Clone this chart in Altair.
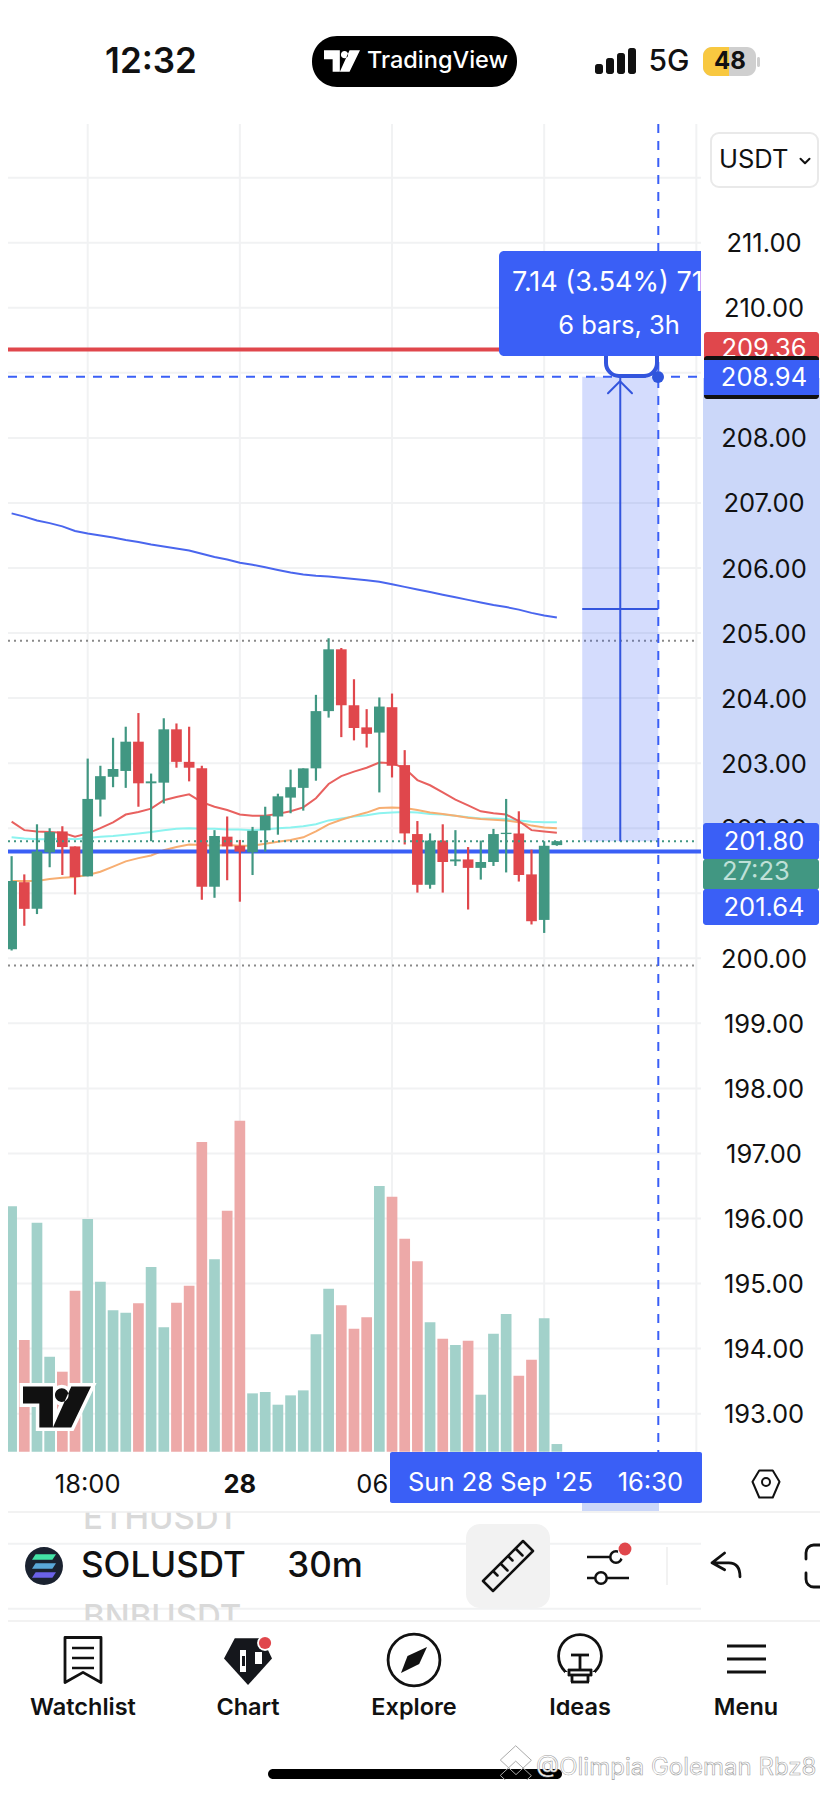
import altair as alt
import pandas as pd

# ---------- chart values ----------
bars = list(range(-6, 38))
opens = [200.14,201.17,200.76,201.63,201.95,201.72,201.26,202.44,202.79,202.88,203.33,202.69,202.70,203.52,203.02,202.92,201.10,201.87,201.73,201.63,201.97,202.18,202.47,202.62,202.92,203.80,204.75,203.89,203.55,203.47,203.86,202.97,201.91,201.13,201.81,201.49,201.52,201.39,201.48,201.91,201.92,201.29,200.59,201.74]
closes = [201.19,200.76,201.64,201.94,201.71,201.25,202.45,202.80,202.91,203.33,202.69,202.72,203.52,203.02,202.93,201.10,201.88,201.72,201.64,201.96,202.19,202.49,202.63,202.92,203.80,204.75,203.89,203.54,203.45,203.87,202.96,201.92,201.13,201.81,201.48,201.52,201.39,201.48,201.91,201.93,201.28,200.57,201.73,201.80]
highs = [201.57,201.29,202.06,202.00,202.03,201.72,203.07,202.96,203.39,203.56,203.77,202.84,203.69,203.61,203.56,202.96,201.97,202.18,201.82,202.02,202.33,202.53,202.90,202.92,204.05,204.92,204.77,204.29,203.83,204.01,204.07,203.20,202.11,201.92,202.06,201.97,201.71,201.81,201.99,202.45,202.26,201.67,201.80,201.80]
lows = [200.12,200.50,200.68,201.40,201.28,200.98,201.26,202.18,202.63,202.62,202.33,201.80,202.38,202.93,202.72,200.90,200.93,201.20,200.87,201.28,201.64,201.90,202.23,202.27,202.73,203.70,203.40,203.35,203.24,202.55,202.78,201.75,201.01,201.07,201.01,201.42,200.75,201.21,201.42,201.32,201.18,200.52,200.39,201.73]
volumes = [736,335,687,285,240,483,698,510,424,417,445,554,373,447,498,929,577,723,993,175,179,141,169,184,352,489,439,369,403,797,765,639,571,388,339,320,333,171,354,413,228,276,400,23]
ema_red = [202.10,201.97,201.95,201.94,201.93,201.87,201.92,202.00,202.09,202.21,202.25,202.30,202.43,202.48,202.52,202.40,202.33,202.28,202.21,202.19,202.19,202.22,202.26,202.32,202.46,202.68,202.80,202.87,202.93,203.01,203.00,202.92,202.74,202.66,202.55,202.44,202.35,202.26,202.23,202.21,202.11,201.97,201.95,201.93]
ema_orange = [201.19,201.19,201.19,201.22,201.24,201.25,201.28,201.33,201.41,201.49,201.54,201.58,201.66,201.71,201.75,201.74,201.73,201.74,201.73,201.73,201.76,201.79,201.82,201.86,201.95,202.06,202.13,202.19,202.24,202.31,202.32,202.31,202.28,202.24,202.22,202.19,202.16,202.14,202.13,202.12,202.09,202.04,202.01,202.00]
ema_cyan = [201.86,201.84,201.83,201.83,201.84,201.83,201.85,201.87,201.88,201.90,201.92,201.94,201.97,201.99,202.00,201.99,201.99,201.98,201.98,201.97,201.98,202.00,202.01,202.03,202.06,202.12,202.15,202.18,202.20,202.23,202.24,202.25,202.24,202.22,202.21,202.19,202.17,202.15,202.15,202.14,202.12,202.10,202.09,202.09]
ma_blue = [206.84,206.79,206.73,206.69,206.64,206.57,206.53,206.50,206.47,206.43,206.40,206.36,206.33,206.30,206.27,206.22,206.17,206.13,206.08,206.05,206.01,205.97,205.93,205.90,205.88,205.87,205.85,205.83,205.81,205.79,205.75,205.71,205.67,205.63,205.59,205.55,205.51,205.47,205.43,205.40,205.36,205.31,205.27,205.24]
price_ticks = list(range(193, 212))
time_bars = [0, 12, 24, 36, 48]
time_labels = ["18:00", "28", "06:00"]
time_label_bars = [0, 12, 24]
time_label_weight = [400, 700, 400]
alert_price = 209.36
cross_price = 208.94
bid_price = 201.64
last_price = 201.80
dotted_prices = [204.88, 199.89]
mid_price = 205.37
measure_start, measure_end, measure_mid = 39, 45, 42
nav_labels = ["Watchlist", "Chart", "Explore", "Ideas", "Menu"]

# ---------- page geometry ----------
W, H = 812, 1772
PX_PER_UNIT = 65.05
BAR_PX = 12.68
X0, Y200 = 87.7, 958.3
RIGHT, BOTTOM = 8 + W, 8 + H
price_domain = [200 - (BOTTOM - Y200) / PX_PER_UNIT, 200 + (Y200 - 8) / PX_PER_UNIT]
bar_domain = [(8 - X0) / BAR_PX, (RIGHT - X0) / BAR_PX]
XS = alt.Scale(domain=bar_domain, nice=False, zero=False, padding=0)
YS = alt.Scale(domain=price_domain, nice=False, zero=False, padding=0)
VS = alt.Scale(domain=[0, 1000], range=[1451.7 - 8, 1451.7 - 8 - 1000 / 3], nice=False, zero=True, padding=0)
xq = lambda f: alt.X(f, type="quantitative", scale=XS, axis=None)
yq = lambda f: alt.Y(f, type="quantitative", scale=YS, axis=None)
one = pd.DataFrame({"a": [0]})
FONT = "Inter"
TXT = 25.5
BLUE = "#3A5FF6"
GREEN = "#419782"
RED = "#E0474C"
GRID = "#F1F2F3"
layers = []
vx = lambda v: alt.value(max(v - 8, 0))
vy = lambda v: alt.value(max(v - 8, 0))

def rect(x0, x1, y0, y1, color, radius=0, **kw):
    layers.append(alt.Chart(one).mark_rect(color=color, cornerRadius=radius, **kw).encode(
        x=vx(x0), x2=vx(x1), y=vy(y0), y2=vy(y1)))

def hrule(x0, x1, y, color, w=2, **kw):
    layers.append(alt.Chart(one).mark_rule(color=color, strokeWidth=w, **kw).encode(
        x=vx(x0), x2=vx(x1), y=vy(y)))

def vrule(x, y0, y1, color, w=2, **kw):
    layers.append(alt.Chart(one).mark_rule(color=color, strokeWidth=w, **kw).encode(
        x=vx(x), y=vy(y0), y2=vy(y1)))

def text(s, x, y, size, color="#111111", weight=400, align="center", font=FONT, **kw):
    layers.append(alt.Chart(pd.DataFrame({"t": [s]})).mark_text(
        font=font, fontSize=size, fontWeight=weight, color=color, align=align, baseline="middle", **kw
    ).encode(x=vx(x), y=vy(y), text="t:N"))

def icon(path, x, y, px, color="#111111", filled=False, w=2.5, **kw):
    layers.append(alt.Chart(one).mark_point(
        shape=path, filled=filled, opacity=1, color=color, strokeWidth=(0 if filled else w),
        strokeCap="round", strokeJoin="round", **kw
    ).encode(x=vx(x), y=vy(y), size=alt.value(px * px)))

df = pd.DataFrame({"i": bars, "o": opens, "c": closes, "h": highs, "l": lows, "v": volumes,
                   "er": ema_red, "eo": ema_orange, "ec": ema_cyan, "mb": ma_blue})
df["up"] = df.c >= df.o
df["top"] = df[["o", "c"]].max(axis=1)
df["bot"] = df[["o", "c"]].min(axis=1)
colr = alt.Color("up:N", scale=alt.Scale(domain=[True, False], range=[GREEN, RED]), legend=None)
colv = alt.Color("up:N", scale=alt.Scale(domain=[True, False], range=["#A2D1CA", "#EDA9A8"]), legend=None)

# ---------- grid ----------
grid_df = pd.DataFrame({"p": list(range(188, 215))})
layers.append(alt.Chart(grid_df).mark_rule(color=GRID, strokeWidth=2).encode(
    y=yq("p"), x=vx(8), x2=vx(701)))
tb = pd.DataFrame({"i": time_bars})
layers.append(alt.Chart(tb).mark_rule(color=GRID, strokeWidth=2).encode(
    x=xq("i"), y=vy(124), y2=vy(1452)))
rect(8, 701, 8, 124, "#FFFFFF")

# ---------- volume ----------
layers.append(alt.Chart(df).mark_bar(size=10.7).encode(
    x=xq("i"), y=alt.Y("v:Q", scale=VS, axis=None), y2=alt.Y2(datum=0), color=colv))

# ---------- moving averages ----------
for f, c, w in [("mb", "#4A66EE", 2), ("ec", "#8CF3EF", 2), ("eo", "#F7AE72", 2), ("er", "#E8615F", 2)]:
    layers.append(alt.Chart(df).mark_line(color=c, strokeWidth=w).encode(x=xq("i"), y=yq(f)))

# ---------- horizontal levels ----------
lv = lambda p: pd.DataFrame({"p": [p]})
layers.append(alt.Chart(lv(bid_price)).mark_rule(color=BLUE, strokeWidth=4).encode(y=yq("p"), x=vx(8), x2=vx(701)))
layers.append(alt.Chart(lv(alert_price)).mark_rule(color=RED, strokeWidth=4).encode(y=yq("p"), x=vx(8), x2=vx(520)))
layers.append(alt.Chart(pd.DataFrame({"p": dotted_prices})).mark_rule(color="#8A8A8A", strokeWidth=2, strokeDash=[2, 4]).encode(y=yq("p"), x=vx(8), x2=vx(697)))

# ---------- candles ----------
layers.append(alt.Chart(df).mark_bar(size=2.2).encode(x=xq("i"), y=yq("h"), y2="l:Q", color=colr))
layers.append(alt.Chart(df).mark_bar(size=10.7, minBandSize=2).encode(x=xq("i"), y=yq("top"), y2="bot:Q", color=colr))
layers.append(alt.Chart(lv(last_price)).mark_rule(color=GREEN, strokeWidth=2, strokeDash=[2, 4]).encode(y=yq("p"), x=vx(8), x2=vx(697)))

# ---------- measure tool ----------
mdf = pd.DataFrame({"x1": [measure_start], "x2": [measure_end], "y1": [last_price], "y2": [cross_price]})
layers.append(alt.Chart(mdf).mark_rect(color=BLUE, opacity=0.22).encode(
    x=xq("x1"), x2="x2:Q", y=yq("y1"), y2="y2:Q"))
layers.append(alt.Chart(pd.DataFrame({"x": [measure_mid], "y1": [last_price], "y2": [cross_price]})).mark_rule(
    color="#3355DD", strokeWidth=2).encode(x=xq("x"), y=yq("y1"), y2="y2:Q"))
layers.append(alt.Chart(pd.DataFrame({"x1": [measure_start], "x2": [measure_end], "y": [mid_price]})).mark_rule(
    color="#3355DD", strokeWidth=2).encode(x=xq("x1"), x2="x2:Q", y=yq("y")))
layers.append(alt.Chart(pd.DataFrame({"x": [measure_end]})).mark_rule(
    color=BLUE, strokeWidth=2, strokeDash=[9, 8]).encode(x=xq("x"), y=vy(124), y2=vy(1452)))
layers.append(alt.Chart(lv(cross_price)).mark_rule(color=BLUE, strokeWidth=2, strokeDash=[9, 8]).encode(y=yq("p"), x=vx(8), x2=vx(701)))
icon("M-1 0.6L0 -0.4L1 0.6", 620, 386, 24, "#3355DD", w=2)

# TV watermark
TV = "M-1 -0.6H-0.12V0.6H-0.52V-0.1H-1Z M-0.06 -0.35a0.2 0.2 0 1 0 0.4 0a0.2 0.2 0 1 0 -0.4 0Z M0.42 -0.6H1L0.42 0.6H-0.12Z"
layers.append(alt.Chart(one).mark_point(shape=TV, filled=True, color="#FFFFFF", stroke="#FFFFFF", opacity=1, strokeWidth=7).encode(
    x=vx(57), y=vy(1407), size=alt.value(68 * 68)))
icon(TV, 57, 1407, 68, "#111111", filled=True)

# ---------- bottom strip below plot ----------
text("ETHUSDT", 83, 1519, 33, "#D9D9D9", 500, align="left")
text("BNBUSDT", 83, 1618, 33, "#D9D9D9", 500, align="left")
rect(8, RIGHT, 1452, 1512, "#FFFFFF")
rect(8, RIGHT, 1621, BOTTOM, "#FFFFFF")
hrule(8, RIGHT, 1512, "#EEEEEE", 1.5)
hrule(8, RIGHT, 1621, "#EEEEEE", 1.5)
rect(582, 659, 1503, 1511, "#CBD7F9")

# time axis
tl = pd.DataFrame({"i": time_label_bars, "t": time_labels, "w": time_label_weight})
for w in [400, 700]:
    layers.append(alt.Chart(tl[tl.w == w]).mark_text(font=FONT, fontSize=TXT, fontWeight=w, color="#111111", baseline="middle", dy=1).encode(
        x=xq("i"), y=vy(1484), text="t:N"))
rect(390, 702, 1452, 1503, BLUE, 2)
text("Sun 28 Sep '25", 408, 1483, TXT, "#FFFFFF", align="left")
text("16:30", 683, 1483, TXT, "#FFFFFF", align="right")
icon("M-0.9 -0.15L-0.45 -0.9H0.45L0.9 -0.15L0.45 0.9H-0.45Z", 766, 1484, 30, "#111111", w=2)
layers.append(alt.Chart(one).mark_point(filled=False, color="#111111", opacity=1, strokeWidth=2).encode(x=vx(766), y=vy(1482), size=alt.value(64)))

# ---------- right price scale ----------
rect(703, RIGHT, 378, 841, "#CBD7F9")
layers.append(alt.Chart(pd.DataFrame({"p": price_ticks})).transform_calculate(t="format(datum.p,'.2f')").mark_text(
    font=FONT, fontSize=TXT, color="#111111", align="center", baseline="middle", dy=1.5).encode(
    y=yq("p"), x=vx(764), text="t:N"))
rect(704, 819, 332, 372, RED, 3)
text("209.36", 764, 349, TXT, "#FFFFFF")
rect(704, 819, 356, 399, "#111111", 3)
rect(704, 819, 360, 395, BLUE)
text("208.94", 764, 378, TXT, "#FFFFFF")
rect(703, 819, 823, 860, BLUE, 3)
rect(703, 819, 859, 890, GREEN, 3)
rect(703, 819, 889, 925, BLUE, 3)
text("201.80", 764, 842, TXT, "#FFFFFF")
text("27:23", 722, 872, TXT, "#BFE0D8", align="left")
text("201.64", 764, 908, TXT, "#FFFFFF")

# ---------- measure callout ----------
layers.append(alt.Chart(one).mark_rect(fill="#FFFFFF", stroke="#3355DD", strokeWidth=4, cornerRadius=13).encode(
    x=vx(606), x2=vx(657), y=vy(335), y2=vy(376)))
rect(499, 701, 251, 356, BLUE, 5)
rect(690, 701, 251, 356, BLUE)
text("7.14 (3.54%) 714", 512, 283, 27, "#FFFFFF", align="left")
text("6 bars, 3h", 619, 326, TXT, "#FFFFFF", align="center")
rect(701, 722, 251, 300, "#FFFFFF")
layers.append(alt.Chart(one).mark_point(filled=True, color="#2F55DC", opacity=1).encode(x=vx(658), y=vy(377), size=alt.value(144)))

# ---------- status bar ----------
text("12:32", 151, 62, 35, "#111111", 600)
rect(312, 517, 36, 87, "#000000", 25)
icon(TV, 342, 61, 36, "#FFFFFF", filled=True)
text("TradingView", 367, 61, 23.5, "#FFFFFF", 500, align="left")
for bx, top in [(595, 64), (606, 58), (617, 53), (628, 48)]:
    rect(bx, bx + 8, top, 74, "#111111", 2.5)
text("5G", 669, 62, 30, "#111111", 500)
rect(703, 756, 47, 76, "#CFCFCF", 9)
rect(703, 729, 47, 76, "#F8C840", 9)
rect(720, 729, 47, 76, "#F8C840")
text("48", 730, 62, 24, "#111111", 700)
rect(757, 760, 57, 67, "#CFCFCF", 1.5)

# USDT button
layers.append(alt.Chart(one).mark_rect(fill="#FFFFFF", stroke="#E9E9E9", strokeWidth=2, cornerRadius=8).encode(
    x=vx(711), x2=vx(818), y=vy(133), y2=vy(187)))
text("USDT", 719, 160, TXT, "#111111", align="left")
icon("M-1 -0.5L0 0.5L1 -0.5", 805, 161, 9, "#111111", w=2)

# ---------- symbol toolbar ----------
layers.append(alt.Chart(one).mark_point(filled=True, color="#1A2230", opacity=1).encode(x=vx(44), y=vy(1566), size=alt.value(38 * 38 * 0.785 * 1.27)))
for yy, cc in [(1557, "#43E3A6"), (1566, "#5AA8D8"), (1575, "#6A62E8")]:
    icon("M-0.7 -0.22H1L0.7 0.22H-1Z", 44, yy, 24, cc, filled=True)
text("SOLUSDT", 81, 1566, 35, "#111111", 500, align="left")
text("30m", 325, 1566, 35, "#111111", 500)
rect(466, 550, 1524, 1608, "#F2F2F2", 14)
icon("M0.6 -1L1 -0.6L-0.6 1L-1 0.6Z M-0.6 0.2L-0.42 0.38 M-0.3 -0.1L-0.02 0.18 M0 -0.4L0.18 -0.22 M0.3 -0.7L0.58 -0.42", 508, 1566, 50, "#111111", w=2.5)
hrule(587, 610, 1557, "#111111", 2.5)
hrule(587, 629, 1578, "#111111", 2.5)
layers.append(alt.Chart(one).mark_point(filled=False, color="#111111", opacity=1, strokeWidth=2.5).encode(x=vx(616), y=vy(1557), size=alt.value(130)))
layers.append(alt.Chart(one).mark_point(filled=True, color="#FFFFFF", opacity=1).encode(x=vx(626), y=vy(1552), size=alt.value(260)))
layers.append(alt.Chart(one).mark_point(filled=True, color="#E0474C", opacity=1).encode(x=vx(625), y=vy(1549), size=alt.value(165)))
layers.append(alt.Chart(one).mark_point(fill="#FFFFFF", filled=True, stroke="#111111", opacity=1, strokeWidth=2.5).encode(x=vx(601), y=vy(1578), size=alt.value(130)))
vrule(667, 1547, 1585, "#EEEEEE", 1.5)
icon("M-0.1 -1L-1 -0.3L-0.1 0.2 M-1 -0.3H0.2C0.75 -0.3 1 0.1 1 0.7", 726, 1567, 28, "#111111", w=2.8)
icon("M1 -1H0.1C-0.5 -1 -1 -0.5 -1 0.1V1", 813, 1552, 14, "#111111", w=2.8)
icon("M1 1H0.1C-0.5 1 -1 0.5 -1 -0.1V-1", 813, 1580, 14, "#111111", w=2.8)

# ---------- navigation ----------
for lab, cx in zip(nav_labels, [83, 248, 414, 580, 746]):
    text(lab, cx, 1708, 23.5, "#111111", 600)
icon("M-0.8 -1H0.8V1L0 0.55L-0.8 1Z", 83, 1660, 45, "#111111", w=2.8)
for yy in [1648, 1658, 1668]:
    hrule(72, 94, yy, "#111111", 2.5)
# chart
icon("M-0.55 -0.95H0.6L1 -0.1L0 1L-1 -0.1Z", 248, 1661, 48, "#15171C", filled=True)
rect(240, 246, 1650, 1672, "#FFFFFF")
rect(242, 245, 1656, 1666, "#15171C")
rect(255, 262, 1652, 1664, "#FFFFFF")
layers.append(alt.Chart(one).mark_point(filled=True, color="#FFFFFF", opacity=1).encode(x=vx(265), y=vy(1643), size=alt.value(250)))
layers.append(alt.Chart(one).mark_point(filled=True, color="#E0474C", opacity=1).encode(x=vx(265), y=vy(1643), size=alt.value(150)))
# explore
layers.append(alt.Chart(one).mark_point(filled=False, color="#111111", opacity=1, strokeWidth=2.8).encode(x=vx(414), y=vy(1660), size=alt.value(46 * 46 * 1.27)))
icon("M1 -1L0.4 0.3L-1 1L-0.5 -0.3Z", 414, 1660, 26, "#111111", filled=True)
# ideas
layers.append(alt.Chart(one).mark_point(filled=False, color="#111111", opacity=1, strokeWidth=2.8).encode(x=vx(580), y=vy(1656), size=alt.value(38 * 38 * 1.27)))
rect(565, 595, 1672, 1700, "#FFFFFF")
hrule(568, 592, 1670, "#111111", 2.8)
hrule(568, 592, 1675, "#111111", 2.8)
hrule(571, 589, 1682, "#111111", 2.8)
vrule(569, 1669, 1676, "#111111", 2.8)
vrule(591, 1669, 1676, "#111111", 2.8)
vrule(572, 1675, 1682, "#111111", 2.8)
vrule(588, 1675, 1682, "#111111", 2.8)
hrule(571, 589, 1655, "#111111", 2.8)
vrule(580, 1655, 1670, "#111111", 2.8)
# menu
for yy in [1646, 1659, 1672]:
    hrule(727, 766, yy, "#111111", 3)

# home bar and watermark
rect(268, 562, 1769, 1779, "#000000", 5)
icon("M0 -1L0.7 -0.35L0 0.3L-0.7 -0.35Z M0 -0.3L0.7 0.35L0 1L-0.7 0.35Z", 516, 1768, 44, "#FFFFFF", w=1, stroke="#AAAAAA")
layers.append(alt.Chart(pd.DataFrame({"t": ["@Olimpia Goleman Rbz8"]})).mark_text(
    font=FONT, fontSize=24, color="#FFFFFF", stroke="#A0A0A0", strokeWidth=0.6, align="left", baseline="middle").encode(
    x=vx(536), y=vy(1768), text="t:N"))

chart = alt.layer(*layers).resolve_scale(y="independent", color="independent").properties(
    width=W, height=H, padding=0, background="#FFFFFF", autosize=alt.AutoSizeParams(type="none")
).configure_view(strokeWidth=0, stroke=None)
chart.save("out.html", embed_options={"renderer": "svg", "actions": False})
